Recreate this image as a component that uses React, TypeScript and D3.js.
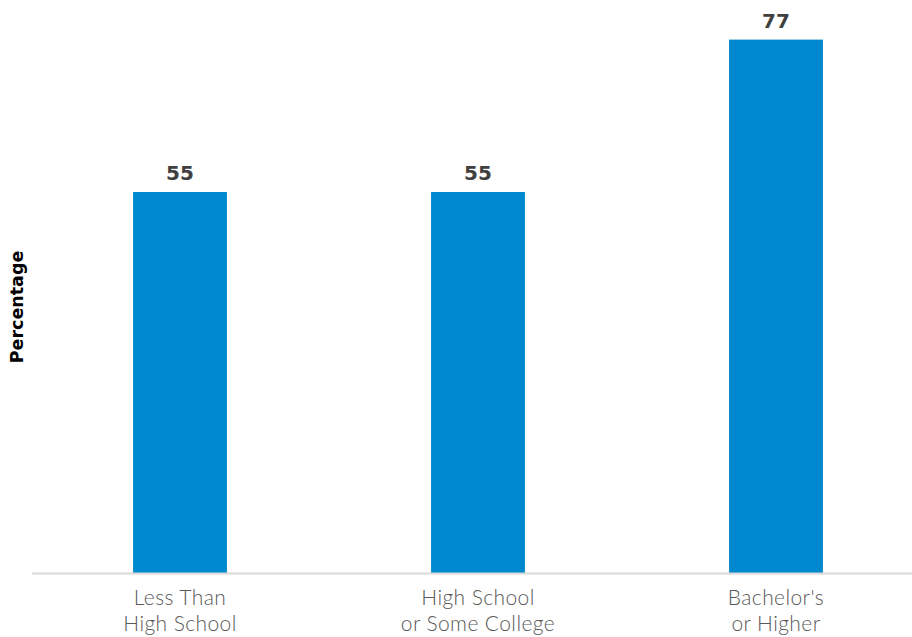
import React from "react";
import * as d3 from "d3";

const categories: string[][] = [
  ["Less Than", "High School"],
  ["High School", "or Some College"],
  ["Bachelor's", "or Higher"],
];
const values: number[] = [55, 55, 77];
const yAxisLabel = "Percentage";

const W = 912;
const H = 637;

export default function App() {
  const keys = categories.map((c) => c.join(" "));
  const x = d3
    .scaleBand<string>()
    .domain(keys)
    .range([31, 925])
    .paddingInner(0.685)
    .paddingOuter(0.3425);
  const y = d3.scaleLinear().domain([0, 100]).range([573, 573 - 692.7]);

  return (
    <svg
      width={W}
      height={H}
      style={{ position: "absolute", left: 0, top: 0, display: "block", background: "#fff" }}
    >
      {values.map((v, i) => (
        <rect
          key={"b" + i}
          x={x(keys[i])!}
          y={y(v)}
          width={x.bandwidth()}
          height={y(0) - y(v)}
          fill="#0089CE"
        />
      ))}
      <line x1={32} x2={W} y1={573.5} y2={573.5} stroke="#d9d9d9" strokeWidth={2} />
      {values.map((v, i) => (
        <text
          key={"v" + i}
          x={x(keys[i])! + x.bandwidth() / 2}
          y={y(v) - 12}
          textAnchor="middle"
          fontFamily="DejaVu Sans"
          fontWeight="bold"
          fontSize={20}
          fill="#404040"
        >
          {v}
        </text>
      ))}
      {categories.map((lines, i) => (
        <text
          key={"c" + i}
          x={x(keys[i])! + x.bandwidth() / 2}
          textAnchor="middle"
          fontFamily="Lato"
          fontWeight={300}
          fontSize={21}
          letterSpacing={0.4}
          fill="#595959"
        >
          {lines.map((l, j) => (
            <tspan key={j} x={x(keys[i])! + x.bandwidth() / 2} y={605 + j * 26}>
              {l}
            </tspan>
          ))}
        </text>
      ))}
      <text
        transform="translate(23,307) rotate(-90)"
        textAnchor="middle"
        fontFamily="DejaVu Sans"
        fontWeight="bold"
        fontSize={17.5}
        fill="#000"
      >
        {yAxisLabel}
      </text>
    </svg>
  );
}
